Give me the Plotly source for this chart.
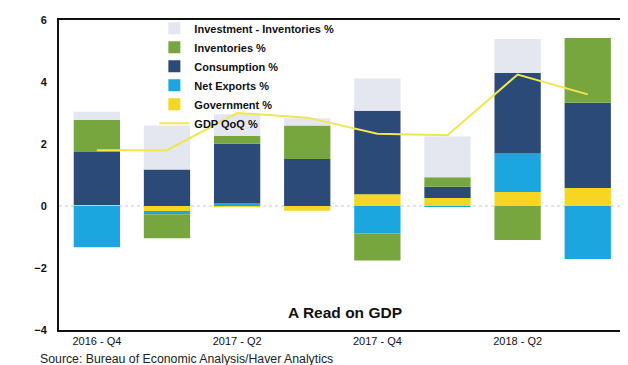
import plotly.graph_objects as go

quarters = ["2016 - Q4", "2017 - Q1", "2017 - Q2", "2017 - Q3",
            "2017 - Q4", "2018 - Q1", "2018 - Q2", "2018 - Q3"]
tick_labels = ["2016 - Q4", "", "2017 - Q2", "", "2017 - Q4", "", "2018 - Q2", ""]

government = [0.03, -0.16, -0.02, -0.15, 0.38, 0.26, 0.45, 0.58]
net_exports = [-1.33, -0.11, 0.10, 0.0, -0.89, -0.03, 1.24, -1.71]
consumption = [1.71, 1.18, 1.91, 1.52, 2.69, 0.36, 2.60, 2.75]
inventories = [1.04, -0.77, 0.26, 1.08, -0.87, 0.31, -1.10, 2.09]
investment_ex_inv = [0.26, 1.42, 0.69, 0.23, 1.04, 1.31, 1.10, 0.0]
gdp_qoq = [1.8, 1.8, 3.0, 2.85, 2.33, 2.28, 4.24, 3.6]

font_family = "Liberation Sans, Arial, sans-serif"

fig = go.Figure()
series = [
    ("Government %", government, "#f4d623", 5),
    ("Net Exports %", net_exports, "#1ba6df", 4),
    ("Consumption %", consumption, "#2c4a78", 3),
    ("Inventories %", inventories, "#78a63e", 2),
    ("Investment - Inventories %", investment_ex_inv, "#e4e6f0", 1),
]
for name, vals, color, rank in series:
    fig.add_trace(go.Bar(x=quarters, y=vals, name=name, marker_color=color,
                         marker_line_width=0, legendrank=rank))

fig.add_trace(go.Scatter(x=quarters, y=gdp_qoq, name="GDP QoQ %", mode="lines",
                         line=dict(color="#f0e650", width=2), legendrank=6))

fig.add_shape(type="line", xref="paper", yref="y", x0=0, x1=1, y0=0, y1=0,
              line=dict(color="#c8c8c8", width=1, dash="dot"), layer="below")

fig.add_annotation(text="A Read on GDP", xref="paper", yref="paper",
                   x=0.51, y=0.058, yanchor="middle", showarrow=False,
                   font=dict(family=font_family, size=15.5, color="#111111", weight="bold"))
fig.add_annotation(text="Source: Bureau of Economic Analysis/Haver Analytics",
                   xref="paper", yref="paper", x=-0.038, y=-0.092,
                   xanchor="left", yanchor="middle", showarrow=False,
                   font=dict(family=font_family, size=12.3, color="#222222"))

fig.update_layout(
    width=620, height=357,
    barmode="relative", bargap=0.34,
    margin=dict(l=51, r=6, t=10, b=35),
    paper_bgcolor="white", plot_bgcolor="white",
    font=dict(family=font_family, color="#111111"),
    showlegend=True,
    legend=dict(x=0.17, y=1.02, xanchor="left", yanchor="top",
                bgcolor="rgba(0,0,0,0)", tracegroupgap=0,
                font=dict(family=font_family, size=11, color="#111111", weight="bold"),
                itemwidth=30),
    xaxis=dict(tickmode="array", tickvals=quarters, ticktext=tick_labels,
               showline=True, linecolor="#111111", linewidth=2, mirror=True,
               ticks="", tickfont=dict(size=11), range=[-0.54, 7.46]),
    yaxis=dict(range=[-4, 6], dtick=2, showgrid=False, zeroline=False,
               showline=True, linecolor="#111111", linewidth=2, mirror=True,
               ticks="", ticklabelstandoff=8,
               tickfont=dict(size=11, weight="bold")),
)

fig.write_html("out.html")
